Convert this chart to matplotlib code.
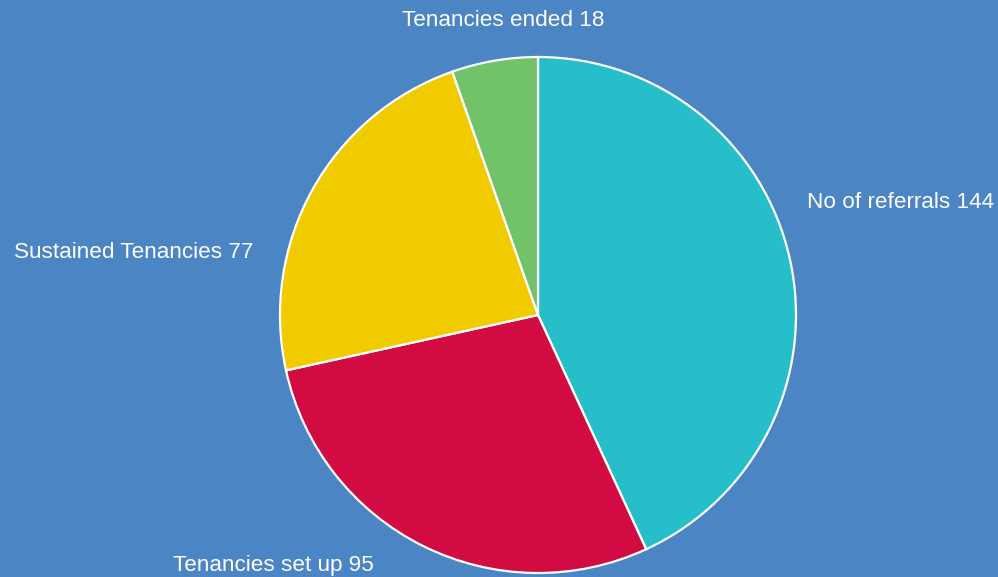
import matplotlib
matplotlib.use("Agg")
import matplotlib.pyplot as plt

labels = ["No of referrals", "Tenancies set up", "Sustained Tenancies", "Tenancies ended"]
values = [144, 95, 77, 18]
colors = ["#25bec9", "#d20c42", "#f0cb00", "#72c26a"]

W, H = 998, 577
fig = plt.figure(figsize=(W / 100, H / 100), dpi=100, facecolor="#4b85c4")
cx, cy, r = 538, 315, 258
m = 1.01
ax = fig.add_axes([(cx - r * m) / W, (H - cy - r * m) / H, 2 * r * m / W, 2 * r * m / H])
ax.set_facecolor("none")
ax.pie(values, colors=colors, startangle=90, counterclock=False, radius=1,
       wedgeprops=dict(edgecolor="white", linewidth=1.6))
ax.set_xlim(-m, m)
ax.set_ylim(-m, m)
ax.set_aspect("equal")
ax.axis("off")

font = dict(family=["Liberation Sans", "DejaVu Sans"], size=16.2, color="white")
# label positions in pixels (x, y from top), with alignment
pos = [
    (807, 203, "left", "center"),
    (173, 566, "left", "center"),
    (253, 252, "right", "center"),
    (503, 20, "center", "center"),
]
for (lab, v), (x, y, ha, va) in zip(zip(labels, values), pos):
    fig.text(x / W, 1 - y / H, f"{lab} {v}", ha=ha, va=va, **font)

fig.savefig("out.png", dpi=100, facecolor=fig.get_facecolor())
